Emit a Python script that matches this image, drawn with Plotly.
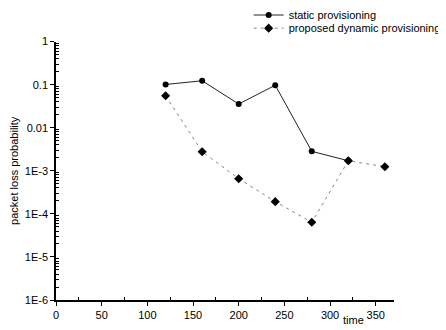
import plotly.graph_objects as go

# data
time_static = [120, 160, 200, 240, 280, 320]
loss_static = [0.101, 0.123, 0.0355, 0.097, 0.00283, 0.00171]
time_dynamic = [120, 160, 200, 240, 280, 320, 360]
loss_dynamic = [0.0552, 0.00277, 0.000656, 0.000192, 0.0000638, 0.00171, 0.00124]

y_tickvals = [1e-6, 1e-5, 1e-4, 1e-3, 1e-2, 1e-1, 1]
y_ticktext = ["1E-6", "1E-5", "1E-4", "1E-3", "0.01", "0.1", "1"]
x_tickvals = [0, 50, 100, 150, 200, 250, 300, 350]
x_minor = [25, 75, 125, 175, 225, 275, 325]
y_minor = [m * 10 ** e for e in range(-6, 0) for m in range(2, 10)]

FONT = "Liberation Sans, Arial, sans-serif"

fig = go.Figure()
fig.add_trace(go.Scatter(
    x=time_static, y=loss_static, mode="lines+markers",
    name="static provisioning", legend="legend",
    line=dict(color="#222222", width=1),
    marker=dict(symbol="circle", size=6, color="black"),
))
fig.add_trace(go.Scatter(
    x=time_dynamic, y=loss_dynamic, mode="lines+markers",
    name="proposed dynamic provisioning", legend="legend2",
    line=dict(color="#888888", width=1, dash="3px,4px"),
    marker=dict(symbol="diamond", size=7, color="black"),
))

leg_common = dict(xanchor="left", yanchor="middle", font=dict(size=11),
                  bgcolor="rgba(0,0,0,0)", itemwidth=30)

fig.update_layout(
    width=438, height=322,
    margin=dict(l=48, r=52, t=0, b=30, autoexpand=False),
    paper_bgcolor="white", plot_bgcolor="white",
    font=dict(family=FONT, size=11, color="black"),
    showlegend=True,
    legend=dict(x=0.57, y=0.976, **leg_common),
    legend2=dict(x=0.57, y=0.931, **leg_common),
    xaxis=dict(
        range=[0, 370], showline=True, linecolor="black", linewidth=1.5,
        showgrid=False, zeroline=False, automargin=False,
        tickmode="array", tickvals=x_tickvals, ticks="outside",
        ticklen=4, tickcolor="black",
        minor=dict(tickmode="array", tickvals=x_minor, ticks="inside",
                   ticklen=3, tickcolor="black"),
        tickfont=dict(size=11),
    ),
    yaxis=dict(
        type="log", range=[-6, 0], domain=[0, 0.885],
        showline=True, linecolor="black", automargin=False,
        linewidth=1.5, showgrid=False, zeroline=False,
        tickmode="array", tickvals=y_tickvals, ticktext=y_ticktext,
        ticks="outside", ticklen=4, tickcolor="black",
        minor=dict(tickmode="array", tickvals=y_minor, ticks="inside",
                   ticklen=3, tickcolor="black"),
        tickfont=dict(size=11),
        title=dict(text="packet loss probability", font=dict(size=11), standoff=4),
    ),
    annotations=[dict(text="time", x=312, y=0, xref="x", yref="paper",
                      xanchor="left", yanchor="top", yshift=-12,
                      showarrow=False, font=dict(size=11))],
)

fig.write_html("out.html")
